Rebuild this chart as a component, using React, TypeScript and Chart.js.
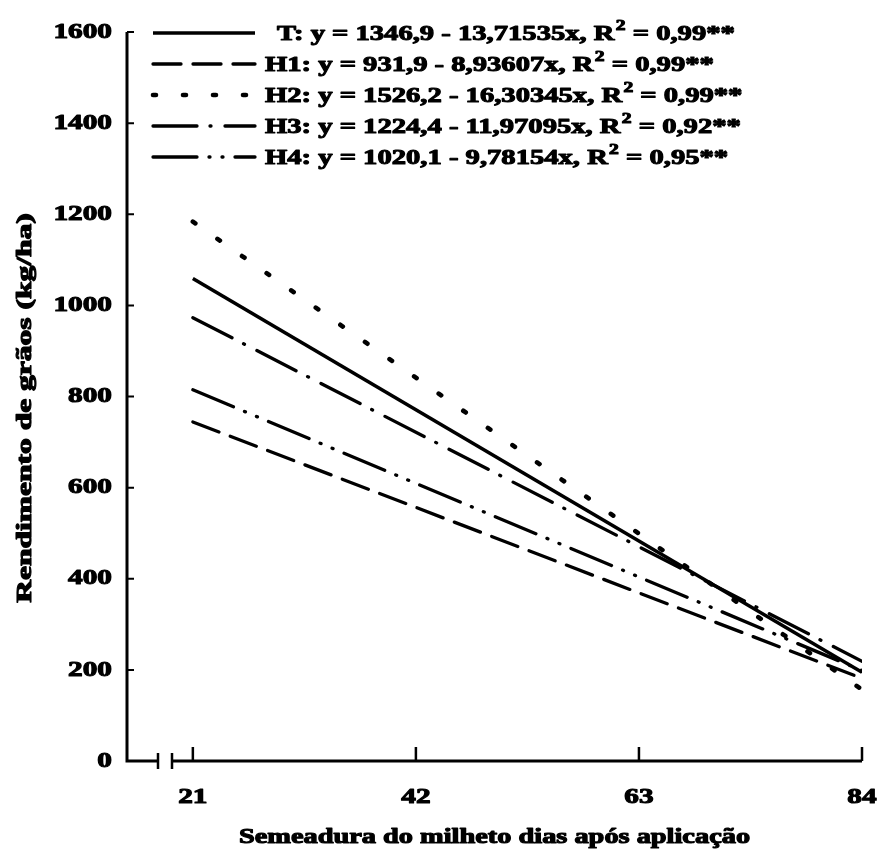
import React, { useEffect, useRef } from "react";
import { Chart, registerables } from "chart.js";

Chart.register(...registerables);

// ---- data ----
const days = [21, 84];
const serieT = [1058.9, 194.8];
const serieH1 = [744.2, 181.3];
const serieH2 = [1183.8, 156.7];
const serieH3 = [973.0, 218.8];
const serieH4 = [814.7, 198.5];
const seriesNames = ["T", "H1", "H2", "H3", "H4"];

const legendBefore = [
  "T: y = 1346,9 - 13,71535x, R",
  "H1: y = 931,9 - 8,93607x, R",
  "H2: y = 1526,2 - 16,30345x, R",
  "H3: y = 1224,4 - 11,97095x, R",
  "H4: y = 1020,1 - 9,78154x, R",
];
const legendSup = ["2", "2", "2", "2", "2"];
const legendAfter = [" = 0,99**", " = 0,99**", " = 0,99**", " = 0,92**", " = 0,95**"];

const xTicks = [21, 42, 63, 84];
const yTicks = [0, 200, 400, 600, 800, 1000, 1200, 1400, 1600];
const xTitle = "Semeadura do milheto dias após aplicação";
const yTitle = "Rendimento de grãos (kg/ha)";

// ---- styles ----
const FONT = '"Liberation Serif", "Times New Roman", serif';
const SX = 1.33;
const dashes: number[][] = [[], [28, 12], [3, 27], [44, 13, 1, 14], [44, 12, 1, 12, 1, 12]];
const widths = [3.6, 3.3, 4.6, 3.3, 3.3];

function paint(ctx: CanvasRenderingContext2D, s: string, x: number, y: number) {
  ctx.fillText(s, x, y);
  ctx.strokeText(s, x, y);
}

function drawText(
  ctx: CanvasRenderingContext2D,
  s: string,
  x: number,
  y: number,
  align: CanvasTextAlign,
  baseline: CanvasTextBaseline,
  size: number,
  sx: number,
  rot = 0
) {
  ctx.save();
  ctx.translate(x, y);
  if (rot) ctx.rotate(rot);
  ctx.scale(sx, 1);
  ctx.font = `bold ${size}px ${FONT}`;
  ctx.fillStyle = "#000";
  ctx.strokeStyle = "#000";
  ctx.lineWidth = 1.1;
  ctx.lineJoin = "round";
  ctx.setLineDash([]);
  ctx.textAlign = align;
  ctx.textBaseline = baseline;
  paint(ctx, s, 0, 0);
  ctx.restore();
}

function drawRich(
  ctx: CanvasRenderingContext2D,
  before: string,
  sup: string,
  after: string,
  x: number,
  y: number,
  size: number,
  sx: number
) {
  ctx.save();
  ctx.translate(x, y);
  ctx.scale(sx, 1);
  ctx.fillStyle = "#000";
  ctx.strokeStyle = "#000";
  ctx.lineWidth = 1.1;
  ctx.lineJoin = "round";
  ctx.setLineDash([]);
  ctx.textAlign = "left";
  ctx.textBaseline = "alphabetic";
  ctx.font = `bold ${size}px ${FONT}`;
  let cx = 0;
  paint(ctx, before, cx, 0);
  cx += ctx.measureText(before).width;
  ctx.font = `bold ${Math.round(size * 0.7)}px ${FONT}`;
  paint(ctx, sup, cx + 1, -size * 0.45);
  cx += ctx.measureText(sup).width + 1;
  ctx.font = `bold ${size}px ${FONT}`;
  paint(ctx, after, cx, 0);
  ctx.restore();
}

const decorPlugin = {
  id: "decor",
  afterDraw(chart: any) {
    const { ctx, chartArea: ca, scales } = chart;
    const xs = scales.x;
    const ys = scales.y;
    const bottom = ys.getPixelForValue(0);
    const top = ys.getPixelForValue(1600);
    const left = ca.left;
    const xEnd = xs.getPixelForValue(84);

    ctx.save();
    ctx.strokeStyle = "#000";
    ctx.lineCap = "butt";
    ctx.setLineDash([]);

    // axes with break
    ctx.lineWidth = 3;
    ctx.beginPath();
    ctx.moveTo(left, top);
    ctx.lineTo(left, bottom);
    ctx.lineTo(left + 31, bottom);
    ctx.moveTo(left + 45, bottom);
    ctx.lineTo(xEnd, bottom);
    ctx.stroke();
    ctx.lineWidth = 2.5;
    ctx.beginPath();
    ctx.moveTo(left + 31, bottom - 8);
    ctx.lineTo(left + 31, bottom + 8);
    ctx.moveTo(left + 45, bottom - 8);
    ctx.lineTo(left + 45, bottom + 8);
    ctx.stroke();

    // y ticks (inward)
    ctx.lineWidth = 2;
    ctx.beginPath();
    yTicks.forEach((v) => {
      if (v === 0) return;
      const py = ys.getPixelForValue(v);
      ctx.moveTo(left, py);
      ctx.lineTo(left + 7, py);
    });
    ctx.stroke();
    // x ticks (inward)
    ctx.lineWidth = 2.5;
    ctx.beginPath();
    xTicks.forEach((v) => {
      const px = xs.getPixelForValue(v);
      ctx.moveTo(px, bottom);
      ctx.lineTo(px, bottom - 14);
    });
    ctx.stroke();
    ctx.restore();

    // tick labels
    yTicks.forEach((v) => {
      drawText(ctx, String(v), left - 15, ys.getPixelForValue(v), "right", "middle", 22, SX);
    });
    xTicks.forEach((v) => {
      drawText(ctx, String(v), xs.getPixelForValue(v), bottom + 42, "center", "alphabetic", 22, SX);
    });

    // titles
    drawText(ctx, xTitle, (left + xEnd) / 2, bottom + 82, "center", "alphabetic", 21, 1.35);
    drawText(ctx, yTitle, 31, 408, "center", "alphabetic", 21, 1.5, -Math.PI / 2);

    // legend
    const rowY = [33, 64, 95, 126, 157];
    const textX = [277, 265, 265, 265, 265];
    seriesNames.forEach((_, i) => {
      ctx.save();
      ctx.strokeStyle = "#000";
      ctx.lineWidth = widths[i];
      ctx.setLineDash(dashes[i]);
      ctx.lineCap = dashes[i].length ? "round" : "butt";
      ctx.beginPath();
      ctx.moveTo(153, rowY[i]);
      ctx.lineTo(255, rowY[i]);
      ctx.stroke();
      ctx.restore();
      drawRich(ctx, legendBefore[i], legendSup[i], legendAfter[i], textX[i], rowY[i] + 7, 22, 1.3);
    });
  },
};

export default function App() {
  const ref = useRef<HTMLCanvasElement>(null);
  useEffect(() => {
    if (!ref.current) return;
    const allSeries = [serieT, serieH1, serieH2, serieH3, serieH4];
    const chart = new Chart(ref.current, {
      type: "line",
      data: {
        datasets: allSeries.map((s, i) => ({
          label: seriesNames[i],
          data: days.map((d, k) => ({ x: d, y: s[k] })),
          borderColor: "#000",
          borderWidth: widths[i],
          borderDash: dashes[i],
          borderCapStyle: dashes[i].length ? "round" : "butt",
          pointRadius: 0,
          fill: false,
          tension: 0,
        })),
      },
      options: {
        responsive: false,
        animation: false,
        layout: { padding: { left: 127, right: 16, top: 32, bottom: 94 } },
        plugins: { legend: { display: false }, tooltip: { enabled: false } },
        scales: {
          x: { type: "linear", min: 14.8, max: 84, display: false },
          y: { type: "linear", min: 0, max: 1600, display: false },
        },
      },
      plugins: [decorPlugin],
    } as any);
    return () => chart.destroy();
  }, []);
  return (
    <div style={{ position: "absolute", left: 0, top: 0, width: 878, height: 855, background: "#fff" }}>
      <canvas ref={ref} width={878} height={855} />
    </div>
  );
}
